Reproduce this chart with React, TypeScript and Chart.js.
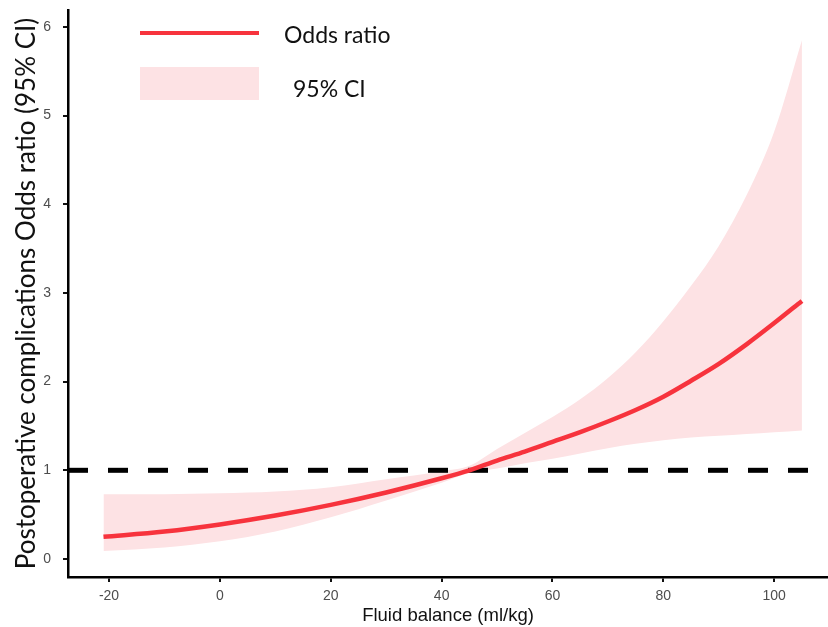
import React, { useEffect, useRef } from "react";
import { Chart, registerables } from "chart.js";

Chart.register(...registerables);

// Data
const fluidBalance = [-21, -10, 0, 10, 20, 30, 40, 45, 50, 55, 60, 65, 70, 75, 80, 85, 90, 95, 100, 105];
const oddsRatio = [0.25, 0.31, 0.39, 0.49, 0.61, 0.75, 0.91, 1.0, 1.11, 1.21, 1.32, 1.43, 1.55, 1.68, 1.83, 2.01, 2.2, 2.42, 2.66, 2.91];
const ciUpper = [0.73, 0.73, 0.74, 0.76, 0.81, 0.9, 0.99, 1.05, 1.24, 1.42, 1.6, 1.8, 2.04, 2.33, 2.68, 3.08, 3.53, 4.1, 4.82, 5.85];
const ciLower = [0.09, 0.13, 0.2, 0.31, 0.47, 0.66, 0.86, 0.97, 1.02, 1.08, 1.13, 1.19, 1.25, 1.3, 1.34, 1.37, 1.39, 1.41, 1.43, 1.45];
const referenceOR = 1;

const xTicks = [-20, 0, 20, 40, 60, 80, 100];
const yTicks = [0, 1, 2, 3, 4, 5, 6];
const xLimits = [-27.4, 109.7];
const yLimits = [-0.203, 6.19];

const LINE_RED = "#f7333d";
const BAND_PINK = "#fde2e4";

export default function App() {
  const canvasRef = useRef<HTMLCanvasElement | null>(null);

  useEffect(() => {
    const canvas = canvasRef.current;
    if (!canvas) return;
    const pts = (ys: number[]) => fluidBalance.map((x, i) => ({ x, y: ys[i] }));

    const chart = new Chart(canvas, {
      type: "line",
      data: {
        datasets: [
          {
            label: "Odds ratio",
            data: pts(oddsRatio),
            borderColor: LINE_RED,
            borderWidth: 4.5,
            pointRadius: 0,
            cubicInterpolationMode: "monotone",
            fill: false,
            order: 0,
          },
          {
            label: "ref",
            data: [
              { x: xLimits[0], y: referenceOR },
              { x: xLimits[1], y: referenceOR },
            ],
            borderColor: "#000",
            borderWidth: 5,
            borderDash: [20, 20],
            pointRadius: 0,
            fill: false,
            order: 1,
          },
          {
            label: "95% CI upper",
            data: pts(ciUpper),
            borderWidth: 0,
            borderColor: "rgba(0,0,0,0)",
            backgroundColor: BAND_PINK,
            pointRadius: 0,
            cubicInterpolationMode: "monotone",
            fill: "+1",
            order: 2,
          },
          {
            label: "95% CI lower",
            data: pts(ciLower),
            borderWidth: 0,
            borderColor: "rgba(0,0,0,0)",
            pointRadius: 0,
            cubicInterpolationMode: "monotone",
            fill: false,
            order: 3,
          },
        ],
      },
      options: {
        responsive: false,
        maintainAspectRatio: false,
        animation: false,
        layout: { padding: { top: 10, right: 0, left: 0, bottom: 0 } },
        plugins: {
          legend: { display: false },
          tooltip: { enabled: false },
        },
        scales: {
          x: {
            type: "linear",
            min: xLimits[0],
            max: xLimits[1],
            afterFit: (s: any) => {
              s.height = 50;
              s.paddingLeft = 0;
              s.paddingRight = 0;
            },
            afterBuildTicks: (s: any) => {
              s.ticks = xTicks.map((v) => ({ value: v }));
            },
            grid: {
              display: true,
              drawOnChartArea: false,
              drawTicks: true,
              tickLength: 5,
              tickColor: "#111",
              lineWidth: 2,
            },
            border: { display: true, color: "#000", width: 2.5 },
            ticks: {
              color: "#4d4d4d",
              font: { family: "'Liberation Sans', Arial, sans-serif", size: 14 },
              padding: 6,
              maxRotation: 0,
            },
            title: {
              display: true,
              text: "Fluid balance (ml/kg)",
              color: "#111",
              font: { family: "'Liberation Sans', Arial, sans-serif", size: 18.5 },
              padding: { top: 0, bottom: 0 },
            },
          },
          y: {
            type: "linear",
            min: yLimits[0],
            max: yLimits[1],
            afterFit: (s: any) => {
              s.width = 68;
              s.paddingTop = 0;
              s.paddingBottom = 0;
            },
            afterBuildTicks: (s: any) => {
              s.ticks = yTicks.map((v) => ({ value: v }));
            },
            grid: {
              display: true,
              drawOnChartArea: false,
              drawTicks: true,
              tickLength: 5,
              tickColor: "#111",
              lineWidth: 2,
            },
            border: { display: true, color: "#000", width: 2.5 },
            ticks: {
              color: "#4d4d4d",
              font: { family: "'Liberation Sans', Arial, sans-serif", size: 14 },
              padding: 12,
            },
            title: {
              display: true,
              text: "Postoperative complications Odds ratio (95% CI)",
              color: "#111",
              font: { family: "Lato, 'Open Sans', sans-serif", size: 26 },
              padding: { top: 11, bottom: 0 },
            },
          },
        },
      },
    });
    return () => chart.destroy();
  }, []);

  const legendText: React.CSSProperties = {
    position: "absolute",
    fontFamily: "Lato, 'Open Sans', sans-serif",
    fontSize: 23,
    color: "#111",
    lineHeight: "1",
    whiteSpace: "nowrap",
  };

  return (
    <div style={{ position: "absolute", left: 0, top: 0, width: 828, height: 627, background: "#fff" }}>
      <canvas ref={canvasRef} width={828} height={627} style={{ display: "block", width: 828, height: 627 }} />
      <div style={{ position: "absolute", left: 140, top: 31, width: 119, height: 4, background: LINE_RED }} />
      <div style={{ ...legendText, left: 284, top: 23 }}>Odds ratio</div>
      <div style={{ position: "absolute", left: 140, top: 67, width: 119, height: 33, background: BAND_PINK }} />
      <div style={{ ...legendText, left: 293, top: 77 }}>95% CI</div>
    </div>
  );
}
